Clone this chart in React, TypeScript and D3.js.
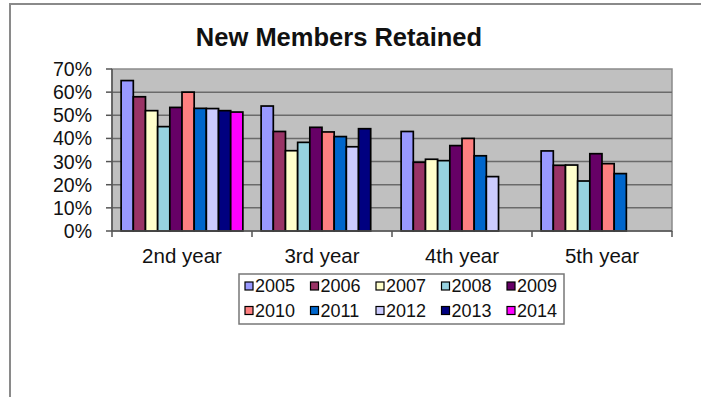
import React from "react";
import * as d3 from "d3";

const categories = ["2nd year", "3rd year", "4th year", "5th year"];
const years = ["2005", "2006", "2007", "2008", "2009", "2010", "2011", "2012", "2013", "2014"];
const colors = ["#9999FF", "#993366", "#FFFFCC", "#96D2E0", "#660066", "#FF8080", "#0066CC", "#CCCCFF", "#000080", "#FF00FF"];

const v2005 = [65, 54, 43, 34.6];
const v2006 = [58, 43, 29.7, 28.4];
const v2007 = [52, 34.7, 31, 28.5];
const v2008 = [45.1, 38.3, 30.4, 21.6];
const v2009 = [53.4, 44.8, 36.9, 33.4];
const v2010 = [60, 42.8, 40, 29.1];
const v2011 = [53, 40.8, 32.5, 24.8];
const v2012 = [52.9, 36.4, 23.5, null];
const v2013 = [52, 44.2, null, null];
const v2014 = [51.4, null, null, null];
const seriesValues: (number | null)[][] = [v2005, v2006, v2007, v2008, v2009, v2010, v2011, v2012, v2013, v2014];

const yTicks = [0, 10, 20, 30, 40, 50, 60, 70];

const FONT = "'Liberation Sans', Arial, sans-serif";

export default function App() {
  const W = 701, H = 397;
  const left = 112, right = 672, top = 69, bottom = 231;
  const x = d3.scaleBand<string>().domain(categories).range([left, right]).paddingInner(0).paddingOuter(0);
  const xi = d3.scaleBand<string>().domain(years).range([0, x.bandwidth()]).paddingInner(0).paddingOuter(0.75);
  const y = d3.scaleLinear().domain([0, 70]).range([bottom, top]);

  const legendX0 = 245, legendColW = 65.5, legendRow0 = 286, legendRowH = 24.5;

  return (
    <svg width={W} height={H} style={{ position: "absolute", left: 0, top: 0, background: "#fff" }} fontFamily={FONT}>
      <rect x={10} y={4} width={W + 10} height={H + 10} fill="#fff" stroke="#8a8a8a" strokeWidth={2} />
      <text x={339} y={46} textAnchor="middle" fontSize={25.5} fontWeight="bold" fill="#111">New Members Retained</text>
      <rect x={left} y={top} width={right - left} height={bottom - top} fill="#C0C0C0" stroke="#8a8a8a" strokeWidth={1.5} />
      {yTicks.slice(1, -1).map((t) => (
        <line key={t} x1={left} x2={right} y1={y(t)} y2={y(t)} stroke="#6a6a6a" strokeWidth={1.5} />
      ))}
      {seriesValues.map((vals, si) =>
        vals.map((v, ci) =>
          v == null ? null : (
            <rect
              key={`${si}-${ci}`}
              x={(x(categories[ci]) as number) + (xi(years[si]) as number)}
              y={y(v)}
              width={xi.bandwidth()}
              height={y(0) - y(v)}
              fill={colors[si]}
              stroke="#000"
              strokeWidth={1.7}
            />
          )
        )
      )}
      <line x1={left} x2={left} y1={top} y2={bottom} stroke="#555" strokeWidth={1.5} />
      <line x1={left} x2={right} y1={bottom} y2={bottom} stroke="#555" strokeWidth={1.5} />
      {yTicks.map((t) => (
        <g key={t}>
          <line x1={left - 6} x2={left} y1={y(t)} y2={y(t)} stroke="#555" strokeWidth={1.5} />
          <text x={92} y={y(t)} dy="0.36em" textAnchor="end" fontSize={19.5} fill="#111">{`${t}%`}</text>
        </g>
      ))}
      {[...categories.map((c) => x(c) as number), right].map((px, i) => (
        <line key={i} x1={px} x2={px} y1={bottom} y2={bottom + 6} stroke="#555" strokeWidth={1.5} />
      ))}
      {categories.map((c) => (
        <text key={c} x={(x(c) as number) + x.bandwidth() / 2} y={263} textAnchor="middle" fontSize={20.5} fill="#111">{c}</text>
      ))}
      <rect x={239} y={274} width={325} height={50} fill="#fff" stroke="#777" strokeWidth={1.5} />
      {years.map((yr, i) => {
        const col = i % 5, row = Math.floor(i / 5);
        const lx = legendX0 + col * legendColW;
        const ly = legendRow0 + row * legendRowH;
        return (
          <g key={yr}>
            <rect x={lx} y={ly - 4} width={8} height={8} fill={colors[i]} stroke="#000" strokeWidth={1.2} />
            <text x={lx + 10} y={ly} dy="0.36em" fontSize={18} fill="#111">{yr}</text>
          </g>
        );
      })}
    </svg>
  );
}
